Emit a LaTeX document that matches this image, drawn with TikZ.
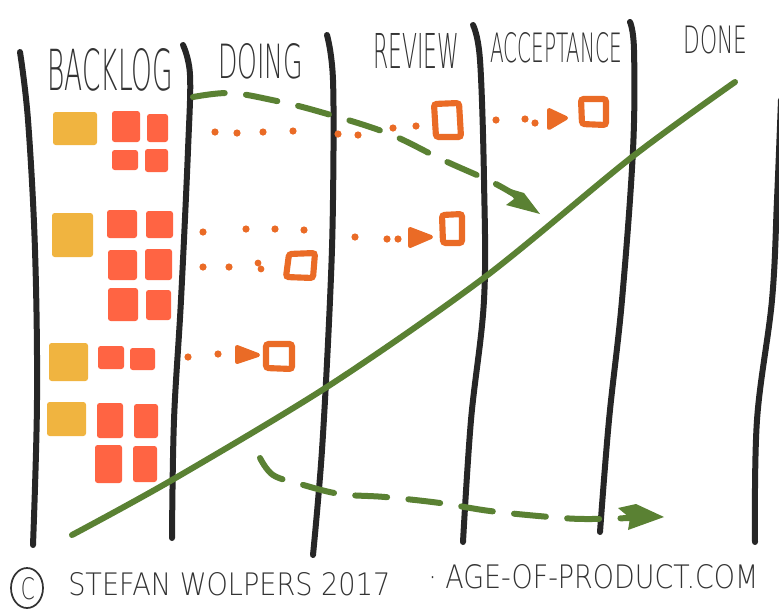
\documentclass[tikz,border=0pt]{standalone}
\usepackage{fontspec}
\usepackage{graphicx}
\setmainfont{DejaVu Sans ExtraLight}
\usetikzlibrary{arrows.meta}
\newlength\pxu \setlength\pxu{0.75pt}
\newcommand{\hw}[3]{\resizebox{#1\pxu}{#2\pxu}{#3}}
\definecolor{ink}{HTML}{262626}
\definecolor{txt}{HTML}{333333}
\definecolor{cyel}{HTML}{F0B440}
\definecolor{cred}{HTML}{FF6443}
\definecolor{corg}{HTML}{EA6B26}
\definecolor{cgrn}{HTML}{5A8133}
\tikzset{
  lane/.style={draw=ink, line width=4.5pt, line cap=round, line join=round},
  yel/.style={fill=cyel, rounded corners=2pt},
  red/.style={fill=cred, rounded corners=2pt},
  wip/.style={draw=corg, line width=4.6pt, rounded corners=2pt},
  dotc/.style={fill=corg},
  blob/.style={fill=corg, draw=corg, line width=3pt, line join=round},
  flow/.style={draw=cgrn, line width=4.5pt, line cap=round},
  dflow/.style={draw=cgrn, line width=4.5pt, line cap=round, dash pattern=on 24pt off 16pt},
  head/.style={inner sep=0pt, anchor=north west, text=txt},
}
\begin{document}
\begin{tikzpicture}[x=0.75pt, y=-0.75pt]
\useasboundingbox (0,0) rectangle (779,612);
\fill[white] (0,0) rectangle (779,612);

% headers
\node[head] (hb) at (47,48) {\hw{126}{42}{BACKLOG}};
\node[head] (hd) at (218,43) {\hw{85}{35}{DOING}};
\node[head] (hr) at (373,33) {\hw{86}{35}{REVIEW}};
\node[head] (ha) at (490,32) {\hw{132}{30}{ACCEPTANCE}};
\node[head] (hn) at (683,25) {\hw{64}{28}{DONE}};

% lane lines
\draw[lane] plot[smooth, tension=0.6] coordinates {(20,52) (28,120) (35,250) (37,400) (33,545)};
\draw[lane] plot[smooth, tension=0.6] coordinates {(183,45) (190,75) (188,150) (181,300) (174,420) (172,538)};
\draw[lane] plot[smooth, tension=0.6] coordinates {(327,35) (333,80) (333,200) (330,300) (322,450) (313,555)};
\draw[lane] plot[smooth, tension=0.6] coordinates {(473,25) (480,60) (484,180) (484,300) (471,420) (463,542)};
\draw[lane] plot[smooth, tension=0.6] coordinates {(630,22) (634,50) (633,150) (622,300) (609,420) (600,532)};
\draw[lane] plot[smooth, tension=0.6] coordinates {(781,100) (777,200) (772,300) (757,420) (755,542)};

% backlog cards row 1
\fill[yel] (53,112) rectangle (97,145);
\fill[red] (112,111) rectangle (140,142);
\fill[red] (147,114) rectangle (168,142);
\fill[red] (112,150) rectangle (138,170);
\fill[red] (145,149) rectangle (168,172);
% row 2
\fill[yel] (52,213) rectangle (93,257);
\fill[red] (107,210) rectangle (137,238);
\fill[red] (146,211) rectangle (173,238);
\fill[red] (108,250) rectangle (137,280);
\fill[red] (145,249) rectangle (172,280);
\fill[red] (108,288) rectangle (138,321);
\fill[red] (146,290) rectangle (171,320);
% row 3
\fill[yel] (49,343) rectangle (88,381);
\fill[red] (98,346) rectangle (124,369);
\fill[red] (130,348) rectangle (155,370);
% row 4
\fill[yel] (47,402) rectangle (86,436);
\fill[red] (97,403) rectangle (123,438);
\fill[red] (134,404) rectangle (158,438);
\fill[red] (95,445) rectangle (122,483);
\fill[red] (133,446) rectangle (157,482);

% green solid line
\draw[flow] plot[smooth, tension=0.5] coordinates {(72,535) (172,480) (330,385) (485,277) (632,157) (735,82)};

% green dashed flows
\draw[dflow] plot[smooth, tension=0.6] coordinates {(193,97) (230,93) (272,100) (317,111) (387,133) (443,160) (492,182) (520,198)};
\fill[cgrn] (540,214) -- (506,205) -- (514,199) -- (507,188) -- (524,193) -- cycle;
\draw[dflow] plot[smooth, tension=0.6] coordinates {(260,458) (273,475) (300,484) (340,494) (385,497) (440,503) (490,511) (550,517) (585,519) (630,518)};
\fill[cgrn] (664,517) -- (628,530) -- (630,518) -- (618,508) -- (636,504) -- cycle;

% orange dots
\foreach \p in {(215,132),(237,133),(263,132),(293,131),(338,134),(358,135),(393,128),(416,126),(496,120),(525,119),(535,123),(387,239),(398,239),(203,232),(246,229),(275,229),(304,230),(355,237),(203,267),(229,267),(188,357),(218,354)}
  \fill[dotc] \p circle (3.6);
\fill[dotc] (258,263) circle (3.4) (261,269) circle (3.4);

% orange arrow blobs
\fill[blob] (549,110) -- (566,118) -- (549,128) -- cycle;
\fill[blob] (410,229) -- (431,237) -- (410,246) -- cycle;
\fill[blob] (237,347) -- (258,355) -- (237,362) -- cycle;

% orange in-progress squares
\draw[wip] (434,104) -- (459,103) -- (461,137) -- (436,137) -- cycle;
\draw[wip] (581,99) -- (606,99) -- (606,125) -- (582,124) -- cycle;
\draw[wip] (442,215) -- (462,214) -- (462,243) -- (443,243) -- cycle;
\draw[wip] (289,254) -- (315,253) -- (313,278) -- (286,277) -- cycle;
\draw[wip] (266,344) -- (292,344) -- (292,369) -- (266,368) -- cycle;

% footer
\draw[txt, line width=1.3pt] (27,588) ellipse [x radius=16, y radius=20];
\node[inner sep=0pt, text=txt] (cp) at (28,589) {\hw{14}{22}{C}};
\node[head] (f1) at (68,572) {\hw{322}{23}{STEFAN WOLPERS 2017}};
\node[inner sep=0pt, anchor=south west, text=txt] (f2) at (428,589) {\hw{330}{24}{· AGE-OF-PRODUCT.COM}};
\end{tikzpicture}
\end{document}
